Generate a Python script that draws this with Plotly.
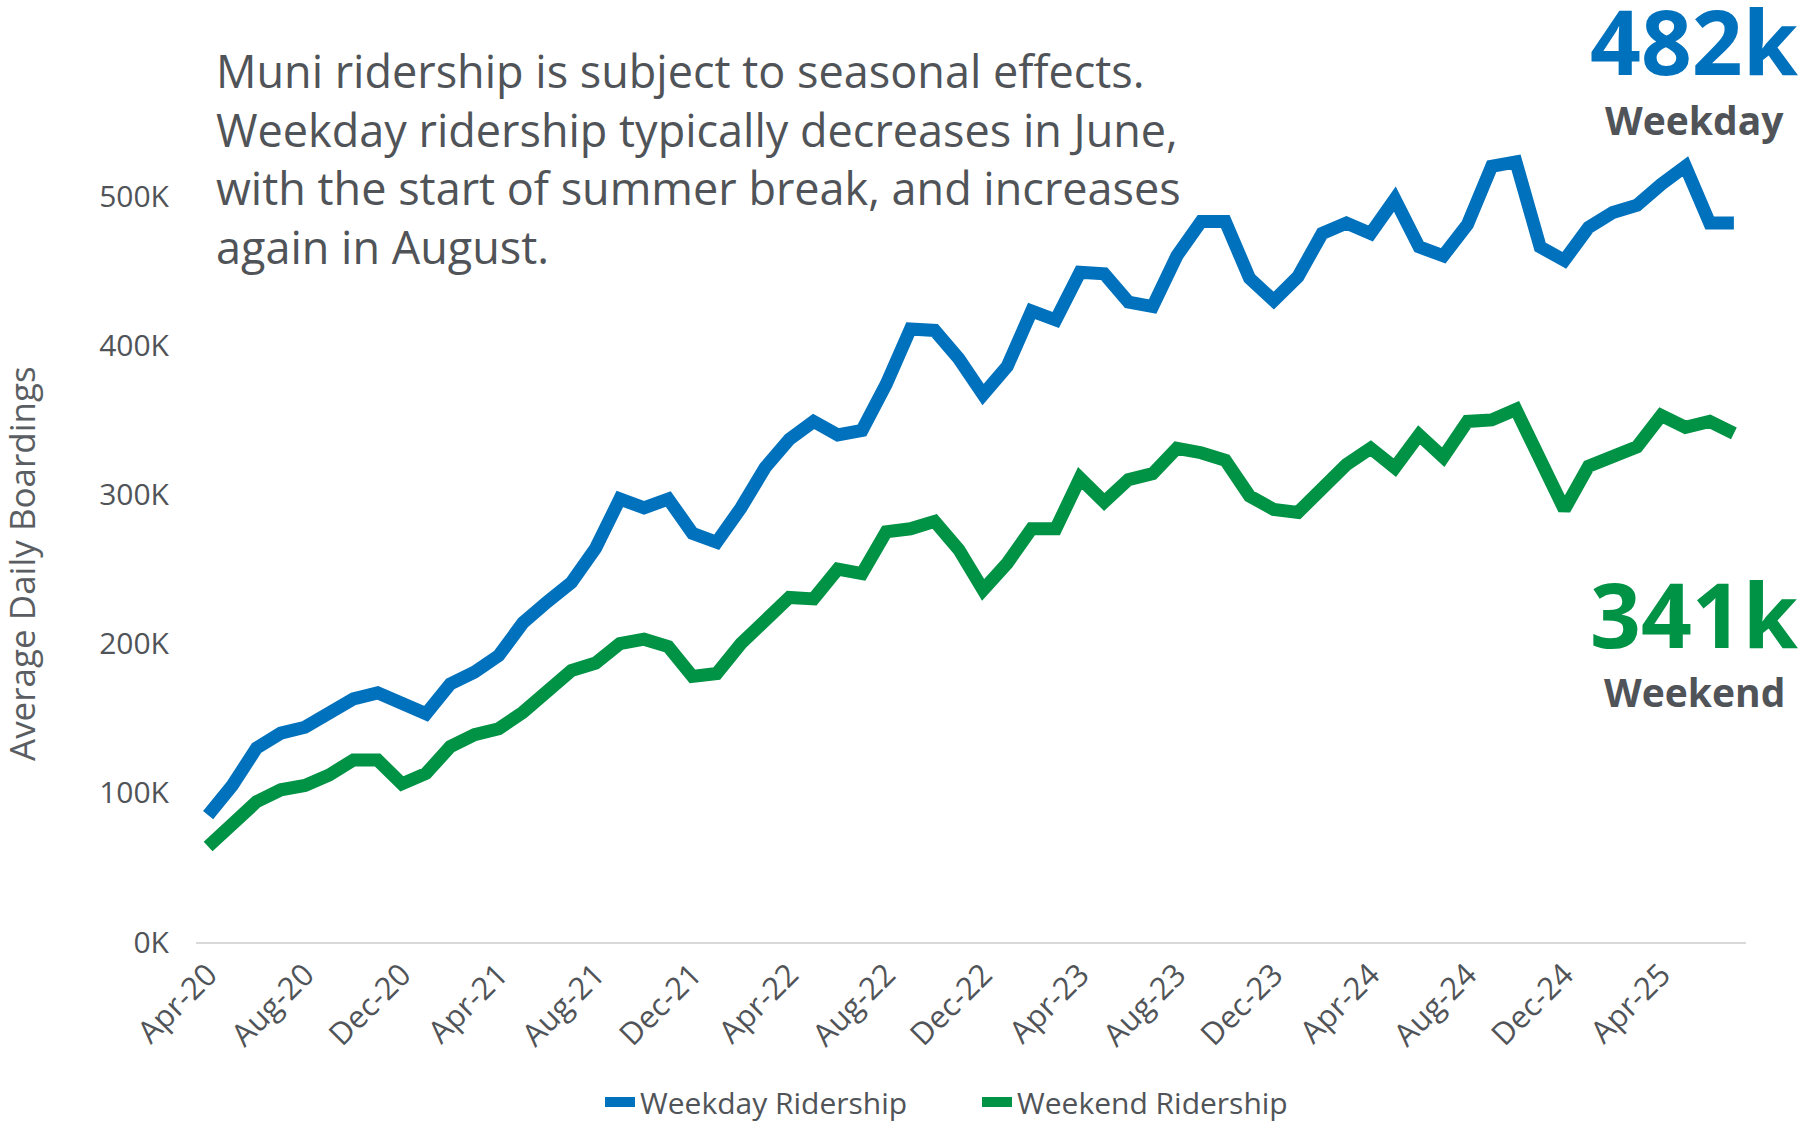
import plotly.graph_objects as go

months = ["Apr-20","May-20","Jun-20","Jul-20","Aug-20","Sep-20","Oct-20","Nov-20","Dec-20",
          "Jan-21","Feb-21","Mar-21","Apr-21","May-21","Jun-21","Jul-21","Aug-21","Sep-21","Oct-21","Nov-21","Dec-21",
          "Jan-22","Feb-22","Mar-22","Apr-22","May-22","Jun-22","Jul-22","Aug-22","Sep-22","Oct-22","Nov-22","Dec-22",
          "Jan-23","Feb-23","Mar-23","Apr-23","May-23","Jun-23","Jul-23","Aug-23","Sep-23","Oct-23","Nov-23","Dec-23",
          "Jan-24","Feb-24","Mar-24","Apr-24","May-24","Jun-24","Jul-24","Aug-24","Sep-24","Oct-24","Nov-24","Dec-24",
          "Jan-25","Feb-25","Mar-25","Apr-25","May-25","Jun-25","Jul-25"]

weekday_k = [85, 105, 130, 140, 144, 154, 163, 167, 159,
             153, 173, 181, 192, 214, 228, 241, 264, 297, 291, 297, 274,
             268, 291, 318, 337, 349, 340, 343, 374, 411, 410, 391, 367,
             386, 423, 417, 449, 448, 429, 426, 460, 483, 483, 445, 430,
             446, 475, 482, 475, 498, 466, 460, 481, 520, 523, 466, 457,
             479, 489, 494, 508, 520, 482, 482]

weekend_k = [64, 78, 94, 102, 105, 112, 122, 122, 106,
             113, 131, 139, 143, 154, 168, 182, 187, 200, 203, 198, 178,
             180, 200, 216, 231, 230, 250, 247, 275, 277, 282, 263, 236,
             254, 277, 277, 311, 295, 310, 314, 331, 328, 323, 299, 290,
             288, 304, 320, 331, 318, 340, 325, 349, 350, 357, 323, 290,
             319, 325, 332, 353, 345, 349, 341]

weekday = [v * 1000 for v in weekday_k]
weekend = [v * 1000 for v in weekend_k]

y_tick_vals = [0, 100000, 200000, 300000, 400000, 500000]
y_tick_text = ["0K", "100K", "200K", "300K", "400K", "500K"]
x_tick_vals = months[::4]

BLUE = "#0071BC"
GREEN = "#009245"
GRAY = "#505458"
FONT = "Open Sans"

W, H = 1801, 1124
L, R, T, B = 196, 1746, 47, 942

def px(X):
    return (X - L) / (R - L)

def py(Y):
    return (B - Y) / (B - T)

fig = go.Figure()
fig.add_trace(go.Scatter(x=months, y=weekday, mode="lines", name="Weekday Ridership",
                         line=dict(color=BLUE, width=13)))
fig.add_trace(go.Scatter(x=months, y=weekend, mode="lines", name="Weekend Ridership",
                         line=dict(color=GREEN, width=13)))

fig.update_layout(
    width=W, height=H,
    margin=dict(l=L, r=W - R, t=T, b=H - B, pad=0, autoexpand=False),
    plot_bgcolor="white", paper_bgcolor="white",
    font=dict(family=FONT, color=GRAY),
    showlegend=True,
    legend=dict(orientation="h", x=px(600), xanchor="left", y=py(1102), yanchor="middle",
                font=dict(size=30, color=GRAY, family=FONT),
                entrywidth=332, entrywidthmode="pixels",
                bgcolor="rgba(0,0,0,0)"),
)

fig.update_xaxes(type="category", range=[-0.5, len(months) - 0.5], automargin=False,
                 tickmode="array", tickvals=x_tick_vals, ticktext=x_tick_vals,
                 tickangle=-45, tickfont=dict(size=31, color=GRAY, family=FONT),
                 showline=True, linecolor="#D9D9D9", linewidth=2,
                 showgrid=False, zeroline=False, ticks="")
fig.update_yaxes(range=[0, 600000], automargin=False, tickmode="array",
                 tickvals=y_tick_vals, ticktext=y_tick_text,
                 tickfont=dict(size=30, color=GRAY, family=FONT),
                 showgrid=False, zeroline=False, showline=False, ticks="",
                 ticklabelstandoff=26)

annotations = [
    dict(text="Muni ridership is subject to seasonal effects.<br>Weekday ridership typically decreases in June,<br>with the start of summer break, and increases<br>again in August.",
         x=px(214), y=py(38), xref="paper", yref="paper", xanchor="left", yanchor="top",
         align="left", showarrow=False, font=dict(size=45, color=GRAY, family=FONT)),
    dict(text="<b>482k</b>", x=px(1694), y=py(41), xref="paper", yref="paper",
         xanchor="center", yanchor="middle", showarrow=False,
         font=dict(size=89, color=BLUE, family=FONT)),
    dict(text="<b>Weekday</b>", x=px(1694), y=py(119), xref="paper", yref="paper",
         xanchor="center", yanchor="middle", showarrow=False,
         font=dict(size=39, color=GRAY, family=FONT)),
    dict(text="<b>341k</b>", x=px(1694), y=py(613), xref="paper", yref="paper",
         xanchor="center", yanchor="middle", showarrow=False,
         font=dict(size=89, color=GREEN, family=FONT)),
    dict(text="<b>Weekend</b>", x=px(1694), y=py(691), xref="paper", yref="paper",
         xanchor="center", yanchor="middle", showarrow=False,
         font=dict(size=39, color=GRAY, family=FONT)),
    dict(text="Average Daily Boardings", x=px(21), y=py(564), xref="paper", yref="paper",
         xanchor="center", yanchor="middle", textangle=-90, showarrow=False,
         font=dict(size=35, color="#5a5e62", family=FONT)),
]
fig.update_layout(annotations=annotations)

fig.write_html("out.html")
